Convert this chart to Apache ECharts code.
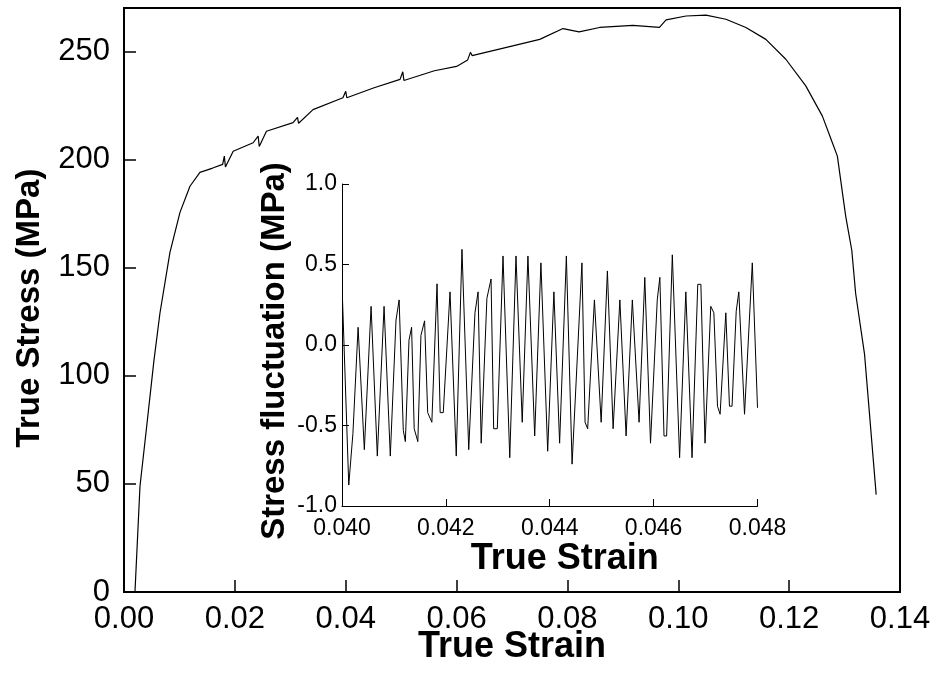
<!DOCTYPE html>
<html>
<head>
<meta charset="utf-8">
<script src="https://cdn.jsdelivr.net/npm/echarts@6.0.0/dist/echarts.min.js"></script>
<style>
html,body{margin:0;padding:0;background:#fff;}
#main{width:935px;height:691px;}
</style>
</head>
<body>
<div id="main"></div>
<script>
// ---- Main curve (true strain vs true stress, MPa) ----
const mainStrain = [0.00198,0.00288,0.00409,0.0054,0.00649,0.00829,0.0101,0.0119,0.0137,0.016,0.0178,0.0181,0.0183,0.0197,0.0233,0.0242,0.0244,0.0257,0.0305,0.0313,0.0315,0.0341,0.0395,0.0400,0.0402,0.0450,0.0498,0.0503,0.0505,0.0560,0.0600,0.0620,0.0625,0.0628,0.0677,0.0750,0.0792,0.0821,0.0858,0.0918,0.0966,0.0978,0.1014,0.1050,0.1086,0.1122,0.1158,0.1194,0.1230,0.1260,0.1278,0.1287,0.1302,0.1313,0.1320,0.1336,0.1357];
const mainStress = [0,48.8,76.5,107,129,157,175.5,187.6,194,196,197.7,201.5,196.5,203.8,207.7,210.8,206,213,217,219.4,216.7,223,228.5,231.5,228.5,233,237,240.5,236.5,241,243,246,249.5,248,251,255.5,260.5,259,261,262,261,264.5,266.3,266.7,264.8,261,255.5,246.3,234,220,207.7,201.5,173.8,158,138,110,45];

// ---- Inset (stress fluctuation, MPa) ----
const insetStrain = [0.04001,0.04013,0.04021,0.04031,0.04043,0.04056,0.04068,0.04081,0.04093,0.04104,0.04110,0.04118,0.04122,0.04129,0.04134,0.04139,0.04146,0.04152,0.04159,0.04165,0.04173,0.04183,0.04189,0.04195,0.04208,0.04220,0.04231,0.04244,0.04256,0.04262,0.04268,0.04279,0.04287,0.04292,0.04299,0.04310,0.04323,0.04335,0.04347,0.04358,0.04371,0.04383,0.04396,0.04408,0.04419,0.04432,0.04443,0.04462,0.04468,0.04473,0.04486,0.04499,0.04511,0.04522,0.04535,0.04547,0.04559,0.04572,0.04583,0.04594,0.04607,0.04612,0.04620,0.04625,0.04636,0.04650,0.04662,0.04674,0.04685,0.04691,0.04699,0.04710,0.04716,0.04723,0.04728,0.04739,0.04746,0.04751,0.04759,0.04764,0.04775,0.04790,0.04800];
const insetStress = [0.28,-0.87,-0.55,0.11,-0.65,0.24,-0.69,0.24,-0.69,0.155,0.28,-0.53,-0.60,0.03,0.11,-0.52,-0.60,0.06,0.15,-0.42,-0.48,0.38,-0.42,-0.42,0.33,-0.69,0.594,-0.65,0.20,0.33,-0.61,0.29,0.41,-0.52,-0.52,0.553,-0.70,0.553,-0.48,0.553,-0.565,0.51,-0.66,0.33,-0.61,0.553,-0.74,0.51,-0.48,-0.52,0.28,-0.48,0.46,-0.52,0.28,-0.565,0.28,-0.48,0.42,-0.61,0.28,0.42,-0.565,-0.565,0.56,-0.70,0.33,-0.70,0.377,0.377,-0.61,0.24,0.20,-0.38,-0.43,0.20,-0.38,-0.38,0.21,0.33,-0.43,0.51,-0.39];

// ---- Tick labels ----
const mainXTicks = [0,0.02,0.04,0.06,0.08,0.10,0.12,0.14];
const mainYTicks = [0,50,100,150,200,250];
const insetXTicks = [0.040,0.042,0.044,0.046,0.048];
const insetYTicks = [-1.0,-0.5,0.0,0.5,1.0];

const font = '"Liberation Sans", Arial, Helvetica, sans-serif';
const chart = echarts.init(document.getElementById('main'), null, {renderer:'canvas'});

function pairs(xs, ys){ return xs.map((x,i)=>[x, ys[i]]); }

const option = {
  animation: false,
  backgroundColor: '#fff',
  grid: [
    {left:124, top:8, right:35, bottom:99, show:true, borderColor:'#000', borderWidth:2, backgroundColor:'transparent'},
    {left:342, top:184, right:177.5, bottom:185}
  ],
  xAxis: [
    {
      gridIndex:0, type:'value', min:0, max:0.14,
      name:'True Strain', nameLocation:'middle', nameGap:37, nameMoveOverlap:false,
      nameTextStyle:{fontSize:36, fontWeight:'bold', fontFamily:font, color:'#000'},
      axisLine:{onZero:false, lineStyle:{color:'#000', width:2}},
      axisTick:{inside:true, length:12, lineStyle:{color:'#000', width:1.5}, customValues:mainXTicks},
      axisLabel:{customValues:mainXTicks, formatter:v=>Number(v).toFixed(2), fontSize:31, color:'#000', fontFamily:font, margin:12},
      splitLine:{show:false}
    },
    {
      gridIndex:1, type:'value', min:0.040, max:0.048,
      name:'True Strain', nameLocation:'middle', nameGap:35, nameMoveOverlap:false,
      nameTextStyle:{fontSize:36, fontWeight:'bold', fontFamily:font, color:'#000', padding:[0,0,0,30]},
      axisLine:{onZero:false, lineStyle:{color:'#000', width:1}},
      axisTick:{inside:true, length:7, lineStyle:{color:'#000', width:1}, customValues:insetXTicks},
      axisLabel:{customValues:insetXTicks, formatter:v=>Number(v).toFixed(3), fontSize:23, color:'#000', fontFamily:font, margin:11},
      splitLine:{show:false}
    }
  ],
  yAxis: [
    {
      gridIndex:0, type:'value', min:0, max:270,
      name:'True Stress (MPa)', nameLocation:'middle', nameGap:78, nameMoveOverlap:false,
      nameTextStyle:{fontSize:33, fontWeight:'bold', fontFamily:font, color:'#000', padding:[0,16,0,0]},
      axisLine:{show:true, onZero:false, lineStyle:{color:'#000', width:2}},
      axisTick:{show:true, inside:true, length:12, lineStyle:{color:'#000', width:1.5}, customValues:mainYTicks},
      axisLabel:{customValues:mainYTicks, formatter:v=>String(Math.round(v)), fontSize:31, color:'#000', fontFamily:font, margin:14},
      splitLine:{show:false}
    },
    {
      gridIndex:1, type:'value', min:-1, max:1,
      name:'Stress fluctuation (MPa)', nameLocation:'middle', nameGap:51, nameMoveOverlap:false,
      nameTextStyle:{fontSize:33, fontWeight:'bold', fontFamily:font, color:'#000', padding:[0,12,0,0]},
      axisLine:{show:true, onZero:false, lineStyle:{color:'#000', width:1}},
      axisTick:{show:true, inside:true, length:7, lineStyle:{color:'#000', width:1}, customValues:insetYTicks},
      axisLabel:{customValues:insetYTicks, formatter:v=>Number(v).toFixed(1), fontSize:23, color:'#000', fontFamily:font, margin:5},
      splitLine:{show:false}
    }
  ],
  series: [
    {type:'line', xAxisIndex:0, yAxisIndex:0, data:pairs(mainStrain, mainStress), showSymbol:false, silent:true, lineStyle:{color:'#000', width:1.2}},
    {type:'line', xAxisIndex:1, yAxisIndex:1, data:pairs(insetStrain, insetStress), showSymbol:false, silent:true, lineStyle:{color:'#000', width:1}}
  ]
};
chart.setOption(option);
</script>
</body>
</html>
